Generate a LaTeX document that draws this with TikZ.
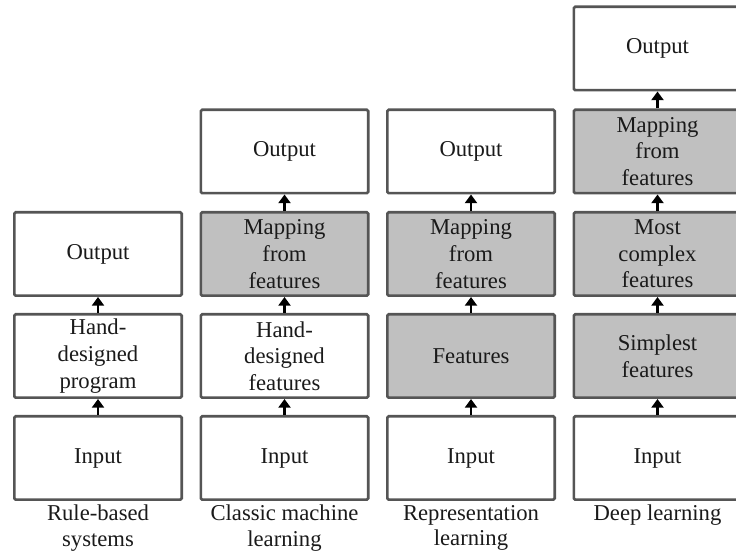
\documentclass[tikz,border=0pt]{standalone}
\usepackage{fontspec}
\setmainfont{Liberation Serif}
\usetikzlibrary{arrows.meta}
\definecolor{boxline}{HTML}{555555}
\definecolor{boxfill}{HTML}{C0C0C0}
\definecolor{txt}{HTML}{1A1A1A}
\tikzset{
  blk/.style={draw=boxline, line width=2pt, rounded corners=1pt, fill=white,
    minimum width=125.5pt, minimum height=62.5pt, inner sep=0pt,
    align=center, text=txt, font=\fontsize{17}{20}\selectfont},
  shaded/.style={blk, fill=boxfill},
  up/.style={line width=1.6pt, -{Triangle[width=9pt,length=6.5pt]}},
  lbl/.style={align=center, anchor=north, text=txt, font=\fontsize{17}{19}\selectfont, inner sep=0pt}
}
\begin{document}
\begin{tikzpicture}[x=0.75pt,y=-0.75pt]
\useasboundingbox (0,0) rectangle (736,555);
\clip (0,0) rectangle (736,555);
% column 1
\node[blk] (a1) at (98,458) {Input};
\node[blk] (a2) at (98,356) {Hand-\\designed\\program};
\node[blk] (a3) at (98,254) {Output};
% column 2
\node[blk] (b1) at (284.5,458) {Input};
\node[blk] (b2) at (284.5,356) {Hand-\\designed\\features};
\node[shaded] (b3) at (284.5,254) {Mapping\\from\\features};
\node[blk] (b4) at (284.5,151.5) {Output};
% column 3
\node[blk] (c1) at (471,458) {Input};
\node[shaded] (c2) at (471,356) {Features};
\node[shaded] (c3) at (471,254) {Mapping\\from\\features};
\node[blk] (c4) at (471,151.5) {Output};
% column 4
\node[blk] (d1) at (657.5,458) {Input};
\node[shaded] (d2) at (657.5,356) {Simplest\\features};
\node[shaded] (d3) at (657.5,254) {Most\\complex\\features};
\node[shaded] (d4) at (657.5,151.5) {Mapping\\from\\features};
\node[blk] (d5) at (657.5,48.5) {Output};
% arrows
\foreach \l/\u in {a1/a2,a2/a3,b1/b2,b2/b3,b3/b4,c1/c2,c2/c3,c3/c4,d1/d2,d2/d3,d3/d4,d4/d5}
  \draw[up] (\l.north) -- (\u.south);
% captions
\node[lbl] (ta) at (98,505) {Rule-based\\systems};
\node[lbl] (tb) at (284.5,505) {Classic machine\\learning};
\node[lbl] (tc) at (471,505) {Representation\\learning};
\node[lbl] (td) at (657.5,505) {Deep learning};
\end{tikzpicture}
\end{document}
